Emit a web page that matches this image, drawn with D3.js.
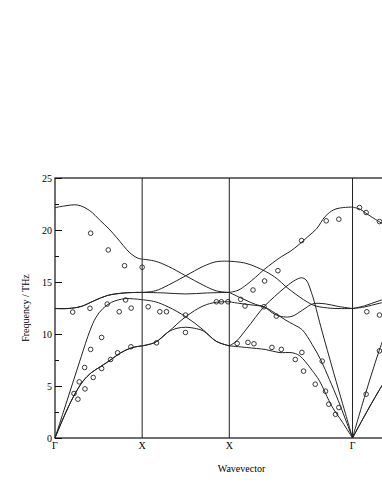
<!DOCTYPE html>
<html>
<head>
<meta charset="utf-8">
<script src="https://cdn.jsdelivr.net/npm/d3@7/dist/d3.min.js"></script>
<style>
body { margin: 0; background: #fff; }
text { font-family: "Liberation Serif", "Times New Roman", serif; font-size: 10px; fill: #000; }
</style>
</head>
<body>
<div id="chart"></div>
<script>
// high symmetry points along the path (path length units), L is past the right edge
var pointLabels = ["Γ", "X", "X", "Γ"];
var pointPos = [0, 1, 2, 3.414, 4.28];
var yTicks = [0, 5, 10, 15, 20, 25];

// calculated branches, [wavevector, THz]
var branchLO = [[0,22.15],[0.1,22.3],[0.26,22.4],[0.4,21.85],[0.52,20.9],[0.62,20.1],[0.71,19.25],[0.86,17.8],[0.95,17.3],[1,17.2],
	[1.15,17.0],[1.3,16.5],[1.5,15.6],[1.7,14.7],[1.85,14.15],[2,14.0],
	[2.1,14.2],[2.2,14.75],[2.3,15.45],[2.4,16.2],[2.5,16.85],[2.6,17.45],[2.7,17.95],[2.8,18.6],[2.9,19.35],[3.0,20.1],[3.1,21.3],[3.2,21.95],[3.3,22.15],[3.414,22.2],
	[3.5,22.0],[3.57,21.6],[3.72,20.8],[3.9,19.9]];
var branchTO1 = [[0,12.45],[0.15,12.45],[0.3,12.65],[0.45,13.2],[0.6,13.7],[0.8,13.95],[1,14.0],
	[1.15,14.15],[1.3,14.7],[1.5,15.6],[1.7,16.5],[1.85,16.95],[2,17.0],
	[2.19,16.8],[2.42,16.0],[2.55,15.3],[2.65,14.55],[2.8,13.6],[2.9,13.05],[2.99,12.7],[3.18,12.47],[3.414,12.45],
	[3.55,12.7],[3.72,13.2],[3.9,13.6]];
var branchTO2 = [[0,12.45],[0.15,12.45],[0.3,12.65],[0.45,13.2],[0.6,13.7],[0.8,13.95],[1,14.0],
	[1.25,13.95],[1.5,13.85],[1.75,13.95],[2,14.0],
	[2.15,13.4],[2.3,12.85],[2.4,12.6],[2.52,11.9],[2.62,11.65],[2.72,11.7],[2.84,12.3],[2.96,12.9],[3.1,12.9],[3.25,12.65],[3.414,12.45],
	[3.55,12.6],[3.72,12.95],[3.9,13.25]];
var branchLA = [[0,0],[0.1,2.6],[0.2,5.2],[0.3,7.8],[0.4,10.3],[0.47,11.6],[0.55,12.45],[0.65,13.05],[0.8,13.4],[0.9,13.38],[1,13.3],
	[1.15,13.1],[1.3,12.6],[1.5,11.66],[1.7,10.4],[1.85,9.3],[2,8.86],
	[2.08,9.3],[2.19,10.4],[2.3,11.6],[2.4,12.65],[2.52,13.6],[2.65,14.55],[2.76,15.2],[2.83,15.4],[2.88,15.2],[2.95,13.8],[3.05,10.7],[3.2,6.2],[3.3,3.3],[3.414,0],
	[3.55,3.9],[3.72,8.4],[3.9,12.5]];
var branchTA1 = [[0,0],[0.1,2.0],[0.21,3.95],[0.32,5.45],[0.42,6.3],[0.52,6.85],[0.62,7.4],[0.71,7.95],[0.8,8.4],[0.9,8.72],[1,8.86],
	[1.15,9.2],[1.3,10.2],[1.5,11.66],[1.7,12.7],[1.85,13.05],[2,13.1],
	[2.11,12.95],[2.25,12.8],[2.4,12.6],[2.53,11.98],[2.646,11.34],[2.74,10.9],[2.837,10.4],[2.95,9.0],[3.05,7.5],[3.15,5.6],[3.25,3.6],[3.414,0],
	[3.55,2.1],[3.72,4.6],[3.9,7.0]];
var branchTA2 = [[0,0],[0.1,2.0],[0.21,3.95],[0.32,5.45],[0.42,6.3],[0.52,6.85],[0.62,7.4],[0.71,7.95],[0.8,8.4],[0.9,8.72],[1,8.86],
	[1.15,9.2],[1.3,10.2],[1.4,10.55],[1.5,10.65],[1.6,10.55],[1.7,10.3],[1.85,9.3],[2,8.86],
	[2.2,8.7],[2.42,8.5],[2.57,8.22],[2.72,8.2],[2.8,7.95],[2.875,7.32],[2.95,6.5],[3.03,5.56],[3.18,3.0],[3.3,1.5],[3.414,0],
	[3.55,2.1],[3.72,4.6],[3.9,7.0]];

// measured points (open circles)
var measured = [[0.409,19.69],[0.611,18.08],[0.798,16.57],[1.0,16.42],
	[0.203,12.11],[0.401,12.47],[0.599,12.88],[0.81,13.27],[0.737,12.14],[0.874,12.49],
	[0.535,9.67],[0.409,8.52],[0.34,6.78],[0.278,5.4],[0.218,4.28],[0.263,3.73],[0.344,4.72],[0.439,5.82],[0.535,6.68],[0.638,7.55],[0.718,8.19],[0.871,8.77],
	[1.069,12.62],[1.203,12.14],[1.279,12.14],[1.497,11.82],[1.497,10.15],[1.165,9.15],[1.852,13.1],[1.909,13.1],[1.985,13.1],
	[2.09,9.09],[2.214,9.19],[2.283,9.06],
	[2.131,13.33],[2.18,12.69],[2.272,14.23],[2.405,15.1],[2.558,16.09],[2.829,18.98],[3.112,20.88],[3.257,21.04],
	[2.398,12.62],[2.539,11.72],
	[2.489,8.71],[2.597,8.52],[2.833,8.23],[2.757,7.55],[3.066,7.39],[2.852,6.43],[2.986,5.17],[3.104,4.5],[3.142,3.25],[3.257,2.93],[3.219,2.28],
	[3.494,22.16],[3.57,21.68],[3.723,20.81],[3.578,12.14],[3.723,11.82],[3.723,8.38],[3.57,4.21]];

var branches = [branchLO, branchTO1, branchTO2, branchLA, branchTA1, branchTA2];

var width = 382, height = 494,
	plotLeft = 55, plotRight = 428, plotTop = 178, plotBottom = 438;

var svg = d3.select("#chart")
	.append("svg")
	.attr("width", width)
	.attr("height", height);

var x = d3.scaleLinear().domain([0, 4.28]).range([plotLeft, plotRight]);
var y = d3.scaleLinear().domain([0, 25]).range([plotBottom, plotTop]);

// vertical lines at high symmetry points
svg.selectAll("line.sym")
	.data(pointPos.slice(1, 4))
	.enter().append("line")
	.attr("x1", function(d){ return x(d); })
	.attr("x2", function(d){ return x(d); })
	.attr("y1", plotTop).attr("y2", plotBottom)
	.attr("stroke", "#222").attr("stroke-width", 1);

// y axis, ticks point inward
var yAxis = d3.axisLeft(y).tickValues(yTicks).tickSize(-7).tickSizeOuter(0).tickPadding(3);
var yMinor = d3.axisLeft(y).tickValues(d3.range(2.5, 25, 5)).tickSize(-4).tickSizeOuter(0).tickFormat("");

var ya = svg.append("g").attr("transform", "translate(" + plotLeft + ",0)").call(yAxis);
svg.append("g").attr("transform", "translate(" + plotLeft + ",0)").call(yMinor);
svg.selectAll(".domain").remove();
svg.selectAll(".tick line").attr("stroke", "#111");
ya.selectAll("text").style("font-family", "'Liberation Serif', serif").style("font-size", "10px");

// frame
svg.append("rect")
	.attr("x", plotLeft).attr("y", plotTop)
	.attr("width", plotRight - plotLeft).attr("height", plotBottom - plotTop)
	.attr("fill", "none").attr("stroke", "#111").attr("stroke-width", 1.2);

// branches, drawn segment by segment so kinks stay at the symmetry points
var line = d3.line()
	.x(function(d){ return x(d[0]); })
	.y(function(d){ return y(d[1]); })
	.curve(d3.curveCatmullRom.alpha(0.5));

var segEnds = pointPos.slice(0, 4).map(function(a, i){
	return [a, i < 3 ? pointPos[i + 1] : 4.0];
});

branches.forEach(function(b) {
	segEnds.forEach(function(s) {
		var pts = b.filter(function(d){ return d[0] >= s[0] - 1e-6 && d[0] <= s[1] + 1e-6; });
		if (pts.length < 2) return;
		svg.append("path")
			.attr("d", line(pts))
			.attr("fill", "none")
			.attr("stroke", "#222")
			.attr("stroke-width", 1);
	});
});

// measured data
svg.selectAll("circle")
	.data(measured)
	.enter().append("circle")
	.attr("cx", function(d){ return x(d[0]); })
	.attr("cy", function(d){ return y(d[1]); })
	.attr("r", 2.3)
	.attr("fill", "none")
	.attr("stroke", "#222")
	.attr("stroke-width", 0.9);

// symmetry point labels
svg.selectAll("text.kpt")
	.data(pointLabels)
	.enter().append("text")
	.attr("class", "kpt")
	.attr("x", function(d, i){ return x(pointPos[i]); })
	.attr("y", plotBottom + 11)
	.attr("text-anchor", "middle")
	.text(function(d){ return d; });

svg.append("text")
	.attr("x", (plotLeft + plotRight) / 2)
	.attr("y", 472)
	.attr("text-anchor", "middle")
	.text("Wavevector");

svg.append("text")
	.attr("transform", "translate(29," + (plotTop + plotBottom) / 2 + ") rotate(-90)")
	.attr("text-anchor", "middle")
	.text("Frequency / THz");
</script>
</body>
</html>
